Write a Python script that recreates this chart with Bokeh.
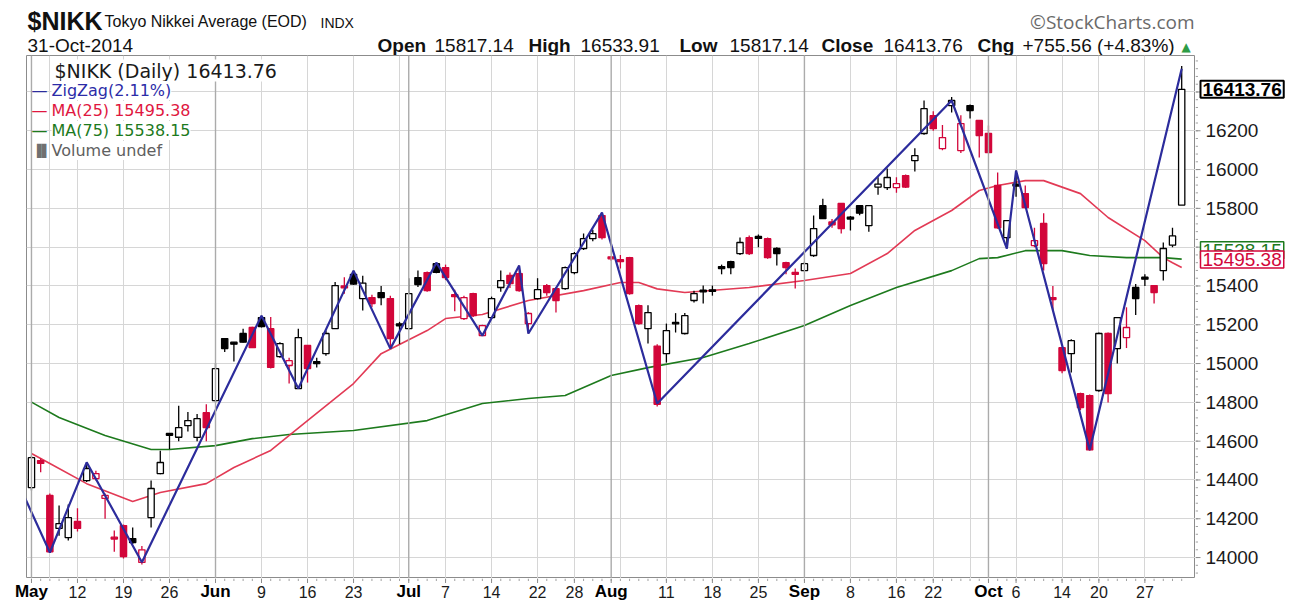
import pandas as pd
from bokeh.plotting import figure
from bokeh.layouts import column, row
from bokeh.models import ColumnDataSource, FixedTicker, Label, Range1d, Span
from bokeh.core.properties import value
from bokeh.embed import file_html
from bokeh.resources import INLINE

# ---------------- data ----------------
JP_HOLIDAYS = ["2014-05-05", "2014-05-06", "2014-07-21", "2014-09-15", "2014-09-23", "2014-10-13"]
trading_days = [d.strftime("%Y-%m-%d") for d in pd.bdate_range("2014-05-01", "2014-10-31")
                if d.strftime("%Y-%m-%d") not in JP_HOLIDAYS]

PRIOR_CLOSE = 14304

open_ = [
    14360, 14500, 14320, 14150, 14103, 14186, 14397, 14407, 14305, 14105,
    14165, 14098, 13975, 14206, 14433, 14640, 14620, 14680, 14619, 14747,
    14809, 15129, 15110, 15155, 15186, 15237, 15180, 15036, 14990, 14871,
    15093, 15010, 15051, 15180, 15400, 15460, 15335, 15340, 15366, 15335,
    15205, 15180, 15443, 15469, 15515, 15495, 15355, 15232, 15361, 15144,
    15237, 15392, 15454, 15464, 15206, 15335, 15402, 15386, 15386, 15469,
    15593, 15644, 15763, 15550, 15535, 15546, 15299, 15180, 15090, 15051,
    15212, 15155, 15325, 15378, 15380, 15500, 15525, 15567, 15649, 15655,
    15644, 15593, 15520, 15470, 15479, 15557, 15814, 15730, 15825, 15755,
    15814, 15711, 15910, 15907, 15907, 15969, 16046, 16186, 16278, 16108,
    16330, 16098, 16330, 16253, 16186, 15918, 15649, 15925, 15876, 15608,
    15722, 15340, 15082, 15051, 14845, 14835, 14861, 15155, 15077, 15134,
    15392, 15445, 15402, 15479, 15610, 15817.14]

high = [
    14525, 14510, 14330, 14268, 14273, 14254, 14491, 14448, 14330, 14140,
    14170, 14155, 14060, 14397, 14551, 14640, 14783, 14750, 14740, 14790,
    15000, 15130, 15110, 15180, 15190, 15247, 15240, 15110, 15030, 15180,
    15093, 15030, 15170, 15420, 15445, 15479, 15453, 15355, 15400, 15350,
    15215, 15440, 15480, 15475, 15520, 15510, 15380, 15350, 15365, 15200,
    15345, 15480, 15470, 15505, 15265, 15440, 15410, 15395, 15500, 15575,
    15670, 15690, 15778, 15555, 15560, 15550, 15305, 15300, 15100, 15206,
    15260, 15260, 15375, 15402, 15402, 15510, 15530, 15650, 15660, 15665,
    15650, 15600, 15525, 15490, 15525, 15763, 15850, 15745, 15825, 15760,
    15815, 15815, 15960, 16005, 15960, 15975, 16110, 16356, 16300, 16230,
    16374, 16280, 16335, 16255, 16227, 15985, 15740, 15995, 15918, 15700,
    15775, 15400, 15085, 15125, 14850, 14840, 15160, 15160, 15240, 15290,
    15410, 15460, 15405, 15624, 15700, 16533.91]

low = [
    14345, 14440, 14025, 14113, 14088, 14134, 14390, 14397, 14200, 14030,
    13995, 14070, 13964, 14155, 14430, 14560, 14600, 14650, 14600, 14600,
    14800, 15060, 15010, 15108, 15080, 15186, 14975, 15030, 14897, 14871,
    14902, 14980, 15040, 15180, 15360, 15405, 15273, 15290, 15300, 15077,
    15100, 15175, 15395, 15370, 15465, 15430, 15270, 15225, 15240, 15144,
    15230, 15370, 15390, 15370, 15155, 15330, 15350, 15263, 15380, 15460,
    15585, 15630, 15640, 15530, 15490, 15355, 15200, 15103, 14778, 15005,
    15160, 15150, 15315, 15309, 15350, 15460, 15460, 15560, 15560, 15600,
    15540, 15505, 15460, 15387, 15475, 15550, 15745, 15700, 15670, 15686,
    15765, 15680, 15870, 15895, 15880, 15905, 15990, 16180, 16200, 16100,
    16294, 16085, 16263, 16062, 16085, 15695, 15593, 15860, 15800, 15600,
    15480, 15270, 14950, 14954, 14760, 14550, 14855, 14799, 15000, 15080,
    15250, 15400, 15309, 15428, 15600, 15817.14]

close = [
    14515, 14485, 14030, 14175, 14206, 14150, 14459, 14433, 14320, 14095,
    14005, 14077, 14040, 14356, 14490, 14630, 14670, 14706, 14716, 14670,
    14974, 15077, 15100, 15110, 15082, 15190, 14980, 15103, 15015, 15134,
    14974, 15000, 15155, 15402, 15390, 15410, 15415, 15309, 15340, 15129,
    15195, 15361, 15407, 15376, 15470, 15443, 15345, 15340, 15247, 15196,
    15335, 15428, 15412, 15376, 15258, 15381, 15366, 15325, 15495, 15567,
    15644, 15670, 15649, 15540, 15525, 15361, 15206, 15263, 14790, 15170,
    15205, 15247, 15361, 15370, 15372, 15490, 15495, 15624, 15567, 15645,
    15546, 15567, 15495, 15460, 15515, 15696, 15747, 15715, 15696, 15745,
    15775, 15814, 15925, 15959, 15928, 15910, 16072, 16314, 16211, 16165,
    16356, 16237, 16304, 16175, 16088, 15700, 15737, 15915, 15804, 15634,
    15515, 15330, 14964, 15118, 14773, 14555, 15155, 14845, 15237, 15186,
    15335, 15435, 15366, 15593, 15658, 16413.76]

# moving averages at the dates listed
MA25_DATES = ["2014-05-01", "2014-05-07", "2014-05-13", "2014-05-20", "2014-05-23", "2014-05-30",
              "2014-06-04", "2014-06-10", "2014-06-16", "2014-06-23", "2014-06-26", "2014-07-03",
              "2014-07-07", "2014-07-11", "2014-07-18", "2014-07-29", "2014-08-04", "2014-08-06",
              "2014-08-08", "2014-08-13", "2014-08-22", "2014-09-01", "2014-09-08", "2014-09-12",
              "2014-09-18", "2014-09-25", "2014-09-30", "2014-10-02", "2014-10-07", "2014-10-09",
              "2014-10-16", "2014-10-21", "2014-10-27", "2014-10-29", "2014-10-30", "2014-10-31"]
MA25 = [14536, 14485, 14381, 14289, 14335, 14381, 14464, 14552, 14706, 14897, 15051, 15170,
        15232, 15253, 15325, 15376, 15418, 15418, 15385, 15366, 15392, 15428, 15464, 15567,
        15686, 15789, 15892, 15918, 15943, 15943, 15876, 15753, 15634, 15546, 15520, 15495.38]
MA75_DATES = ["2014-05-01", "2014-05-08", "2014-05-15", "2014-05-22", "2014-05-26", "2014-06-02",
              "2014-06-06", "2014-06-12", "2014-06-23", "2014-07-03", "2014-07-11", "2014-07-18",
              "2014-07-25", "2014-08-01", "2014-08-07", "2014-08-15", "2014-08-22", "2014-09-01",
              "2014-09-08", "2014-09-16", "2014-09-25", "2014-09-30", "2014-10-02", "2014-10-07",
              "2014-10-14", "2014-10-17", "2014-10-23", "2014-10-29", "2014-10-31"]
MA75 = [14801, 14722, 14629, 14557, 14557, 14577, 14613, 14634, 14655, 14706, 14794, 14820,
        14835, 14938, 14979, 15031, 15103, 15196, 15299, 15392, 15479, 15541, 15546, 15582,
        15582, 15557, 15546, 15546, 15538.15]

ZZ_DATES = ["2014-04-30", "2014-05-07", "2014-05-13", "2014-05-21", "2014-06-09", "2014-06-13",
            "2014-06-23", "2014-06-27", "2014-07-04", "2014-07-11", "2014-07-17", "2014-07-18",
            "2014-07-31", "2014-08-08", "2014-09-25", "2014-10-03", "2014-10-06", "2014-10-17",
            "2014-10-31"]
ZZ_VALS = [14338, 14026, 14491, 13976, 15247, 14871, 15479, 15077, 15520, 15144, 15505,
           15155, 15778, 14794, 16356, 15593, 15995, 14555, 16520]

MONTH_STARTS = ["2014-05-01", "2014-06-02", "2014-07-01", "2014-08-01", "2014-09-01", "2014-10-01"]
MONTH_NAMES = ["May", "Jun", "Jul", "Aug", "Sep", "Oct"]
WEEK_LABEL_DATES = ["2014-05-12", "2014-05-19", "2014-05-26", "2014-06-09", "2014-06-16",
                    "2014-06-23", "2014-07-07", "2014-07-14", "2014-07-22", "2014-07-28",
                    "2014-08-11", "2014-08-18", "2014-08-25", "2014-09-08", "2014-09-16",
                    "2014-09-22", "2014-10-06", "2014-10-14", "2014-10-20", "2014-10-27"]
WEEK_GRID_DATES = ["2014-05-07", "2014-05-12", "2014-05-19", "2014-05-26", "2014-06-02",
                   "2014-06-09", "2014-06-16", "2014-06-23", "2014-06-30", "2014-07-07",
                   "2014-07-14", "2014-07-22", "2014-07-28", "2014-08-04", "2014-08-11",
                   "2014-08-18", "2014-08-25", "2014-09-01", "2014-09-08", "2014-09-16",
                   "2014-09-22", "2014-09-29", "2014-10-06", "2014-10-14", "2014-10-20",
                   "2014-10-27"]
Y_TICKS = list(range(14000, 16401, 200))
Y_LABELS = [str(t) for t in Y_TICKS if t < 16400]   # 16400 sits under the close tag
Y_MINOR = list(range(13920, 16580, 40))

# ---------------- derived ----------------
idx_of = {d: i for i, d in enumerate(trading_days)}
idx_of["2014-04-30"] = -1
xs = list(range(len(trading_days)))
RED, BLACK = "#d2063a", "#000000"
prev = [PRIOR_CLOSE] + close[:-1]
col = [RED if c < pc else BLACK for c, pc in zip(close, prev)]
fill = ["white" if c > o else cc for o, c, cc in zip(open_, close, col)]
src = ColumnDataSource(dict(
    x=xs, open=open_, high=high, low=low, close=close,
    top=[max(o, c) for o, c in zip(open_, close)],
    bot=[min(o, c) for o, c in zip(open_, close)],
    col=col, fill=fill))
month_idx = [idx_of[d] for d in MONTH_STARTS]
week_idx = [idx_of[d] for d in WEEK_LABEL_DATES]
major_x = sorted(week_idx + month_idx)

# ---------------- geometry ----------------
W, H = 1294, 601
HEAD_H = 55
FRAME_L, FRAME_R = 26, 1195
FRAME_H = 523
STRIP_H = H - HEAD_H - FRAME_H
SIDE_W = W - FRAME_R
X0, X1 = -0.54, 126.5
Y0, Y1 = 13892, 16588
AX_FONT = "Liberation Sans"
GRID = "#d6d6d6"
AXIS_C = "#8c8c8c"


def bare(width, height, xr, yr, **kw):
    opts = dict(min_border=0)
    opts.update(kw)
    f = figure(width=width, height=height, x_range=xr, y_range=yr, output_backend="svg",
               toolbar_location=None, x_axis_location=None, y_axis_location=None,
               outline_line_color=None, background_fill_color="white",
               border_fill_color="white", **opts)
    f.grid.visible = False
    return f


def put(fig, text, x, y, size, color="#111111", bold=False, font=AX_FONT, align="left"):
    fig.add_layout(Label(x=x, y=y, text=text, text_align=align, text_baseline="middle",
                         text_font=font, text_font_size=f"{size}px", text_color=color,
                         text_font_style="bold" if bold else "normal"))


# ---------------- header ----------------
hf = bare(W, HEAD_H, Range1d(0, W), Range1d(HEAD_H, 0))
put(hf, "$NIKK", 27, 20, 25, bold=True)
put(hf, "Tokyo Nikkei Average (EOD)", 104, 21, 16)
put(hf, "INDX", 320, 22, 14)
put(hf, "\u00a9StockCharts.com", 1194, 21, 19, "#6a6a6a", font="Open Sans", align="right")
put(hf, "31-Oct-2014", 27, 45, 19)
hdr = [("Open", 377, True), ("15817.14", 434, False), ("High", 528, True),
       ("16533.91", 580, False), ("Low", 679, True), ("15817.14", 729, False),
       ("Close", 821, True), ("16413.76", 883, False), ("Chg", 977, True),
       ("+755.56 (+4.83%)", 1022, False)]
for t, x, b in hdr:
    put(hf, t, x, 45, 19, bold=b)
put(hf, "\u25b2", 1181, 46, 12, "#2e9c45", font="DejaVu Sans")

# ---------------- main chart ----------------
p = figure(width=FRAME_R, height=FRAME_H, output_backend="svg", toolbar_location=None,
           x_range=Range1d(X0, X1), y_range=Range1d(Y0, Y1),
           x_axis_location=None, y_axis_location=None,
           min_border_left=FRAME_L, min_border_right=0, min_border_top=0, min_border_bottom=0,
           background_fill_color="white", border_fill_color="white",
           outline_line_color=AXIS_C, outline_line_width=1)
p.xgrid.ticker = FixedTicker(ticks=[idx_of[d] for d in WEEK_GRID_DATES])
p.ygrid.ticker = FixedTicker(ticks=Y_TICKS)
p.xgrid.grid_line_color = GRID
p.ygrid.grid_line_color = GRID
for i in month_idx:
    p.add_layout(Span(location=i, dimension="height", line_color="#ababab", line_width=1.4))

p.line([idx_of[d] for d in MA75_DATES], MA75, line_color="#1d7a1d", line_width=1.6)
p.line([idx_of[d] for d in MA25_DATES], MA25, line_color="#e23a55", line_width=1.6)

p.segment(x0="x", y0="low", x1="x", y1="high", line_color="col", line_width=1.3, source=src)
p.vbar(x="x", width=0.68, top="top", bottom="bot", fill_color="fill", line_color="col",
       line_width=1.3, source=src)

p.line([idx_of[d] for d in ZZ_DATES], ZZ_VALS, line_color="#2c2c9c", line_width=2.2)


def leg(text, px, py, size, color, bg=None):
    kw = {"background_fill_color": bg} if bg else {}
    p.add_layout(Label(x=X0, y=Y1, x_offset=px - FRAME_L, y_offset=-py, text=text,
                       text_baseline="middle", text_font="DejaVu Sans",
                       text_font_size=f"{size}px", text_color=color, **kw))


# legend (py measured from the top of the chart frame)
leg("$NIKK (Daily) 16413.76", 54, 15, 19, "#1a1a1a", bg="white")
leg("\u2014", 31, 35, 16, "#2c2c9c")
leg("ZigZag(2.11%)", 51, 35, 16, "#2c2ca8", bg="white")
leg("\u2014", 31, 55, 16, "#e0173f")
leg("MA(25) 15495.38", 51, 55, 16, "#e0173f", bg="white")
leg("\u2014", 31, 75, 16, "#1d7a1d")
leg("MA(75) 15538.15", 51, 75, 16, "#1d7a1d", bg="white")
leg("\u2590\u258c", 32, 95, 12, "#707070")
leg("Volume undef", 51, 95, 16, "#606060", bg="white")

# ---------------- right price column ----------------
rf = bare(SIDE_W, FRAME_H, Range1d(0, SIDE_W), p.y_range)
rf.segment(x0=[0] * len(Y_MINOR), y0=Y_MINOR, x1=[2.5] * len(Y_MINOR), y1=Y_MINOR,
           line_color="#a0a0a0", line_width=1)
rf.segment(x0=[0] * len(Y_TICKS), y0=Y_TICKS, x1=[5] * len(Y_TICKS), y1=Y_TICKS,
           line_color=AXIS_C, line_width=1)
rf.text(x=[10] * len(Y_LABELS), y=[float(t) for t in Y_LABELS], text=Y_LABELS,
        text_align="left", text_baseline="middle", text_font=value(AX_FONT),
        text_font_size="19px", text_color="#1a1a1a")


def tag(text, yv, dy, color, bold=False, lw=1.5):
    rf.add_layout(Label(x=5, y=yv, y_offset=dy, text=text, text_baseline="middle",
                        text_font=AX_FONT, text_font_size="19px", text_color=color,
                        text_font_style="bold" if bold else "normal",
                        border_line_color=color, border_line_width=lw,
                        background_fill_color="white", padding=2))


tag("15538.15", MA75[-1], 9, "#1d7a1d")
tag("15495.38", MA25[-1], 8, "#d2063a")
tag("16413.76", close[-1], 0, "#000000", bold=True, lw=2)

# ---------------- x tick strip (full width, same day scale as the chart) ----------------
k = (X1 - X0) / (FRAME_R - FRAME_L)
bf = bare(W, STRIP_H, Range1d(X0 - FRAME_L * k, X1 + (W - FRAME_R) * k), Range1d(STRIP_H, 0))
bf.segment(x0=xs, y0=[0] * len(xs), x1=xs, y1=[2.5] * len(xs), line_color="#a0a0a0",
           line_width=1)
bf.segment(x0=major_x, y0=[0] * len(major_x), x1=major_x, y1=[4.5] * len(major_x),
           line_color=AXIS_C, line_width=1)
bf.text(x=week_idx, y=[13] * len(week_idx), text=[str(int(d[-2:])) for d in WEEK_LABEL_DATES],
        text_align="center", text_baseline="middle", text_font=value(AX_FONT),
        text_font_size="16px", text_color="#1a1a1a")
bf.text(x=month_idx, y=[13] * len(month_idx), text=MONTH_NAMES, text_align="center",
        text_baseline="middle", text_font=value(AX_FONT), text_font_size="17px",
        text_font_style="bold", text_color="#000000")

layout = column(hf, row(p, rf), bf)
open("out.html", "w").write(file_html(layout, INLINE))
